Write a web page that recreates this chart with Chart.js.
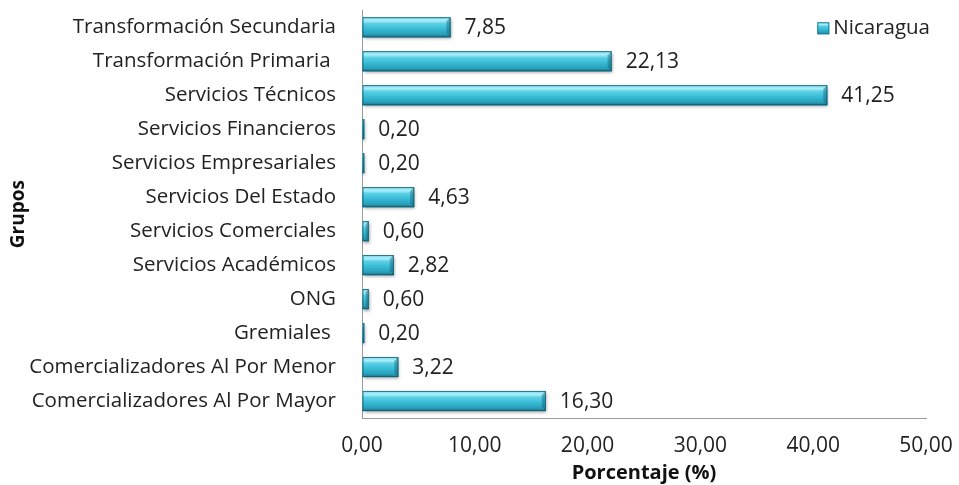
<!DOCTYPE html>
<html lang="es">
  <head>
    <meta charset="UTF-8" />
    <title>Grupos - Nicaragua</title>
    <script src="https://cdn.jsdelivr.net/npm/chart.js"></script>
    <style>
      html, body {
        margin: 0;
        padding: 0;
        background: #ffffff;
      }
      #wrap {
        width: 959px;
        height: 485px;
      }
    </style>
  </head>
  <body>
    <div id="wrap"><canvas id="grupos"></canvas></div>
    <script>
      const grupos = [
        "Transformación Secundaria",
        "Transformación Primaria ",
        "Servicios Técnicos",
        "Servicios Financieros",
        "Servicios Empresariales",
        "Servicios Del Estado",
        "Servicios Comerciales",
        "Servicios Académicos",
        "ONG",
        "Gremiales ",
        "Comercializadores Al Por Menor",
        "Comercializadores Al Por Mayor",
      ];
      const nicaragua = [7.85, 22.13, 41.25, 0.2, 0.2, 4.63, 0.6, 2.82, 0.6, 0.2, 3.22, 16.3];
      const serieNombre = "Nicaragua";

      const fmt = (v) => v.toFixed(2).replace(".", ",");
      const fuente = "'Open Sans', sans-serif";

      function gradienteBarra(ctx, top, h) {
        const g = ctx.createLinearGradient(0, top, 0, top + h);
        g.addColorStop(0, "#7fdcee");
        g.addColorStop(0.18, "#a8eefa");
        g.addColorStop(0.32, "#5ccfe6");
        g.addColorStop(0.6, "#35b9d4");
        g.addColorStop(0.85, "#2a9fba");
        g.addColorStop(1, "#166f86");
        return g;
      }

      // barras biseladas, etiquetas de valor y leyenda
      const bisel = {
        id: "bisel",
        afterDatasetsDraw(chart) {
          const ctx = chart.ctx;
          const meta = chart.getDatasetMeta(0);
          meta.data.forEach((bar, i) => {
            const { x, y, base, height } = bar.getProps(["x", "y", "base", "height"], true);
            const top = y - height / 2;
            const w = x - base;
            ctx.save();
            ctx.shadowColor = "rgba(0,0,0,0.35)";
            ctx.shadowOffsetX = 1;
            ctx.shadowOffsetY = 2;
            ctx.shadowBlur = 3;
            ctx.fillStyle = "#2fb0cb";
            ctx.fillRect(base, top, w, height);
            ctx.restore();

            ctx.fillStyle = gradienteBarra(ctx, top, height);
            ctx.fillRect(base, top, w, height);

            // chaflan del extremo derecho
            const c = Math.min(4, w / 2);
            ctx.fillStyle = "rgba(20,100,120,0.45)";
            ctx.beginPath();
            ctx.moveTo(x - c, top + c);
            ctx.lineTo(x, top);
            ctx.lineTo(x, top + height);
            ctx.lineTo(x - c, top + height - c);
            ctx.closePath();
            ctx.fill();
            ctx.strokeStyle = "rgba(20,90,110,0.8)";
            ctx.lineWidth = 1;
            ctx.strokeRect(base + 0.5, top + 0.5, w - 1, height - 1);

            ctx.fillStyle = "#222222";
            ctx.font = "21px " + fuente;
            ctx.textBaseline = "middle";
            ctx.textAlign = "left";
            ctx.fillText(fmt(nicaragua[i]), x + 14, y + 1);
          });

          const area = chart.chartArea;
          // leyenda
          ctx.font = "20.5px " + fuente;
          ctx.textBaseline = "middle";
          ctx.textAlign = "right";
          ctx.fillStyle = "#222222";
          const lx = area.right + 4;
          const ly = area.top + 18;
          ctx.fillText(serieNombre, lx, ly);
          const tw = ctx.measureText(serieNombre).width;
          const bx = lx - tw - 16;
          ctx.fillStyle = gradienteBarra(ctx, ly - 6, 12);
          ctx.fillRect(bx, ly - 6, 12, 12);
          ctx.strokeStyle = "#1a7f98";
          ctx.strokeRect(bx + 0.5, ly - 5.5, 11, 11);
        },
      };

      new Chart(document.getElementById("grupos"), {
        type: "bar",
        data: {
          labels: grupos,
          datasets: [
            {
              label: serieNombre,
              data: nicaragua,
              backgroundColor: "#2fb0cb",
              borderColor: "#1a7f98",
              borderWidth: 1,
              barPercentage: 0.74,
              categoryPercentage: 0.8,
            },
          ],
        },
        options: {
          indexAxis: "y",
          responsive: true,
          maintainAspectRatio: false,
          animation: false,
          layout: { padding: { top: 10, right: 33, bottom: 0, left: 7 } },
          plugins: {
            legend: { display: false },
            tooltip: { enabled: false },
          },
          scales: {
            x: {
              min: 0,
              max: 50,
              ticks: {
                stepSize: 10,
                color: "#222222",
                font: { family: fuente, size: 21 },
                padding: 0,
                callback: (v) => fmt(v),
              },
              grid: {
                drawOnChartArea: false,
                drawTicks: true,
                tickLength: 15,
                color: "rgba(0,0,0,0)",
              },
              border: { color: "#9a9a9a" },
              title: {
                display: true,
                text: "Porcentaje (%)",
                color: "#111111",
                font: { family: fuente, size: 20, weight: "bold" },
                padding: { top: 0, bottom: 0 },
              },
              afterFit: (s) => {
                s.height = 67;
              },
            },
            y: {
              ticks: {
                color: "#222222",
                font: { family: fuente, size: 20.5, lineHeight: 1 },
                padding: 0,
              },
              grid: {
                drawOnChartArea: false,
                drawTicks: true,
                tickLength: 26,
                color: "rgba(0,0,0,0)",
              },
              border: { color: "#9a9a9a" },
              title: {
                display: true,
                text: "Grupos",
                color: "#111111",
                font: { family: fuente, size: 19, weight: "bold" },
                padding: 0,
              },
              afterFit: (s) => {
                s.width = 355;
              },
            },
          },
        },
        plugins: [bisel],
      });
    </script>
  </body>
</html>
